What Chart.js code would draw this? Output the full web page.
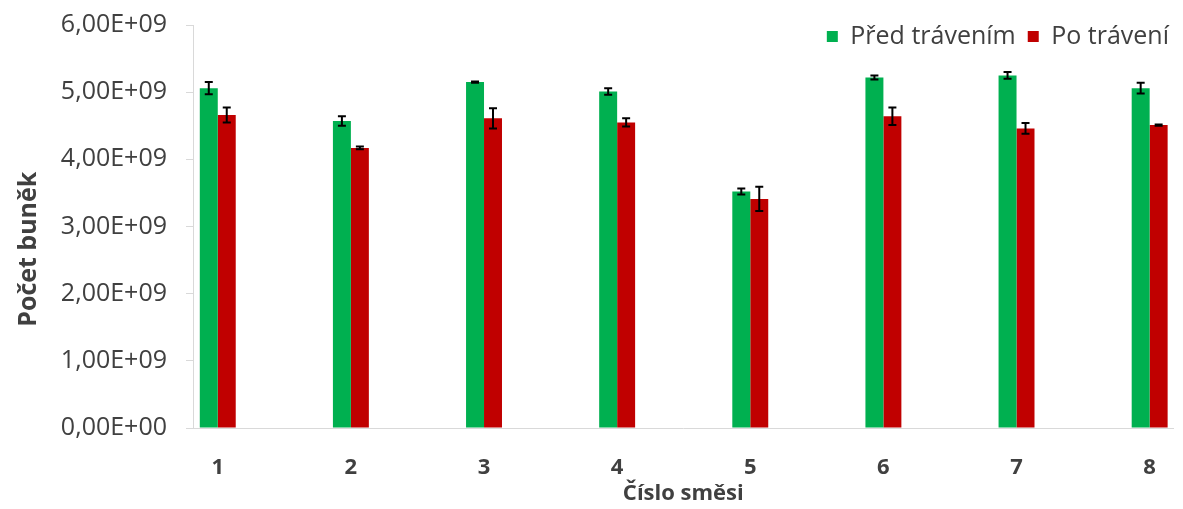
<!DOCTYPE html>
<html>
<head>
<meta charset="utf-8">
<script src="https://cdn.jsdelivr.net/npm/chart.js@4.4.1/dist/chart.umd.min.js"></script>
<style>
    html, body { margin: 0; padding: 0; background: #ffffff; }
    #wrap { width: 1183px; height: 509px; }
</style>
</head>
<body>
<div id="wrap"><canvas id="cellChart" width="1183" height="509"></canvas></div>
<script>
// mixture numbers on the x axis
const categories = [1, 2, 3, 4, 5, 6, 7, 8];
const xLabels = ["1", "2", "3", "4", "5", "6", "7", "8"];

// cell counts before and after digestion
const beforeValues = [5.06e9, 4.57e9, 5.15e9, 5.01e9, 3.52e9, 5.22e9, 5.25e9, 5.06e9];
const afterValues = [4.66e9, 4.17e9, 4.61e9, 4.55e9, 3.41e9, 4.64e9, 4.46e9, 4.51e9];

// error bar half-lengths
const beforeErrors = [0.09e9, 0.07e9, 0.01e9, 0.05e9, 0.045e9, 0.03e9, 0.05e9, 0.08e9];
const afterErrors = [0.11e9, 0.02e9, 0.15e9, 0.06e9, 0.18e9, 0.13e9, 0.08e9, 0.01e9];

// y axis tick labels, one per billion
const yTickLabels = ["0,00E+00", "1,00E+09", "2,00E+09", "3,00E+09", "4,00E+09", "5,00E+09", "6,00E+09"];

const textColor = '#404040';
const axisColor = '#d9d9d9';
const fontFamily = "'Open Sans', 'DejaVu Sans', sans-serif";

// draws the black error bars on top of every bar
const errorBarPlugin = {
    id: 'errorBars',
    afterDatasetsDraw(chart) {
        const ctx = chart.ctx;
        const yScale = chart.scales.y;
        chart.data.datasets.forEach((dataset, di) => {
            const meta = chart.getDatasetMeta(di);
            meta.data.forEach((bar, i) => {
                const value = dataset.data[i];
                const err = dataset.errors[i];
                const yTop = yScale.getPixelForValue(value + err);
                const yBottom = yScale.getPixelForValue(value - err);
                const cap = 4;
                ctx.save();
                ctx.strokeStyle = '#000000';
                ctx.lineWidth = 2;
                ctx.beginPath();
                ctx.moveTo(bar.x, yTop);
                ctx.lineTo(bar.x, yBottom);
                ctx.moveTo(bar.x - cap, yTop);
                ctx.lineTo(bar.x + cap, yTop);
                ctx.moveTo(bar.x - cap, yBottom);
                ctx.lineTo(bar.x + cap, yBottom);
                ctx.stroke();
                ctx.restore();
            });
        });
    }
};

// the legend sits over the top right of the plot, so it takes no layout space
const overlayLegendPlugin = {
    id: 'overlayLegend',
    beforeLayout(chart) {
        const legend = chart.legend;
        if (legend && !legend._overlay) {
            const fit = legend.fit;
            legend.fit = function () {
                fit.call(this);
                this._realHeight = this.height;
                this.height = 0;
            };
            legend._overlay = true;
        }
    },
    afterLayout(chart) {
        // give the clip box its real height back so the items get drawn,
        // and lift it up a little to line up with the top tick label
        const legend = chart.legend;
        if (legend) {
            legend.top -= 13;
            legend.height = legend._realHeight;
            legend.bottom = legend.top + legend._realHeight;
        }
    }
};

function createChart() {
    const ctx = document.getElementById('cellChart').getContext('2d');

    new Chart(ctx, {
        type: 'bar',
        data: {
            labels: categories,
            datasets: [{
                label: 'Před trávením',
                data: beforeValues,
                errors: beforeErrors,
                backgroundColor: '#00b050',
                borderWidth: 0
            }, {
                label: 'Po trávení',
                data: afterValues,
                errors: afterErrors,
                backgroundColor: '#c00000',
                borderWidth: 0
            }]
        },
        options: {
            responsive: false,
            animation: false,
            categoryPercentage: 0.27,
            barPercentage: 1.0,
            layout: {
                padding: { top: 10, left: 14, right: 2, bottom: 2 }
            },
            scales: {
                x: {
                    type: 'linear',
                    offset: false,
                    min: 0.814,
                    max: 8.18,
                    afterBuildTicks: scale => {
                        scale.ticks = categories.map(v => ({ value: v }));
                    },
                    afterFit: scale => {
                        scale.height = 79;
                    },
                    ticks: {
                        callback: value => xLabels[categories.indexOf(value)],
                        color: textColor,
                        font: { family: fontFamily, size: 22, weight: 'bold' },
                        padding: 27,
                        maxRotation: 0
                    },
                    grid: { display: false, drawTicks: false, offset: false },
                    border: { display: true, color: axisColor, width: 1 },
                    title: {
                        display: true,
                        text: 'Číslo směsi',
                        color: textColor,
                        font: { family: fontFamily, size: 22, weight: 'bold' },
                        padding: { top: 0, bottom: 0 }
                    }
                },
                y: {
                    min: 0,
                    max: 6e9,
                    afterFit: scale => {
                        // keep the plot edges where the original has them
                        scale.paddingTop = 25;
                        scale.width = 179;
                    },
                    ticks: {
                        stepSize: 1e9,
                        callback: value => yTickLabels[Math.round(value / 1e9)],
                        color: textColor,
                        font: { family: fontFamily, size: 25 },
                        padding: 19
                    },
                    grid: {
                        drawOnChartArea: false,
                        drawTicks: true,
                        tickLength: 7,
                        color: axisColor
                    },
                    border: { display: true, color: axisColor, width: 1 },
                    title: {
                        display: true,
                        text: 'Počet buněk\u00a0\u00a0\u00a0\u00a0\u00a0\u00a0\u00a0',
                        color: textColor,
                        font: { family: fontFamily, size: 25, weight: 'bold' },
                        padding: { top: 0, bottom: 18 }
                    }
                }
            },
            plugins: {
                legend: {
                    position: 'top',
                    align: 'end',
                    labels: {
                        boxWidth: 11,
                        boxHeight: 11,
                        color: textColor,
                        font: { family: fontFamily, size: 25 },
                        padding: 12
                    }
                },
                tooltip: { enabled: false }
            }
        },
        plugins: [errorBarPlugin, overlayLegendPlugin]
    });
}

document.addEventListener('DOMContentLoaded', createChart);
</script>
</body>
</html>
